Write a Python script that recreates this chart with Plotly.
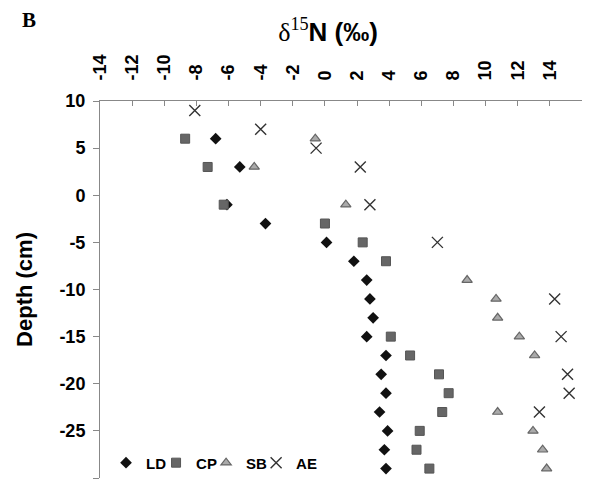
import plotly.graph_objects as go

# ---- data ----
ld_depth = [6, 3, -1, -3, -5, -7, -9, -11, -13, -15, -17, -19, -21, -23, -25, -27, -29]
ld_d15n = [-6.8, -5.3, -6.1, -3.7, 0.1, 1.8, 2.6, 2.8, 3.0, 2.6, 3.8, 3.5, 3.8, 3.4, 3.9, 3.7, 3.8]

cp_depth = [6, 3, -1, -3, -5, -7, -15, -17, -19, -21, -23, -25, -27, -29]
cp_d15n = [-8.7, -7.3, -6.3, 0.0, 2.35, 3.8, 4.1, 5.3, 7.1, 7.7, 7.3, 5.9, 5.7, 6.5]

sb_depth = [6, 3, -1, -9, -11, -13, -15, -17, -23, -25, -27, -29]
sb_d15n = [-0.6, -4.4, 1.3, 8.85, 10.65, 10.75, 12.1, 13.05, 10.75, 12.95, 13.55, 13.8]

ae_depth = [9, 7, 5, 3, -1, -5, -11, -15, -19, -21, -23]
ae_d15n = [-8.1, -4.0, -0.55, 2.2, 2.8, 7.0, 14.3, 14.7, 15.1, 15.2, 13.35]

x_ticks = list(range(-14, 17, 2))
y_ticks = list(range(-30, 11, 5))

FONT = "Liberation Sans"

fig = go.Figure()
fig.add_trace(go.Scatter(x=ld_d15n, y=ld_depth, mode="markers", name="<b>LD</b>",
                         legend="legend",
                         marker=dict(symbol="diamond", size=9, color="#111111")))
fig.add_trace(go.Scatter(x=cp_d15n, y=cp_depth, mode="markers", name="<b>CP</b>",
                         legend="legend2",
                         marker=dict(symbol="square", size=9, color="#666666",
                                     line=dict(color="#555555", width=1))))
fig.add_trace(go.Scatter(x=sb_d15n, y=sb_depth, mode="markers", name="<b>SB</b>",
                         legend="legend3",
                         marker=dict(symbol="triangle-up", size=9, color="#aaaaaa",
                                     line=dict(color="#666666", width=1.2))))
fig.add_trace(go.Scatter(x=ae_d15n, y=ae_depth, mode="markers", name="<b>AE</b>",
                         legend="legend4",
                         marker=dict(symbol="x-thin-open", size=11, color="#333333",
                                     line=dict(color="#333333", width=1.4))))

def leg(xpos):
    return dict(orientation="h", x=xpos, y=0.04, xanchor="left", yanchor="middle",
                font=dict(family=FONT, size=15, color="black"),
                itemwidth=30, bgcolor="rgba(0,0,0,0)")

fig.update_layout(
    width=590, height=487,
    margin=dict(l=100, r=8, t=101, b=9),
    paper_bgcolor="white", plot_bgcolor="white",
    font=dict(family=FONT, color="black"),
    showlegend=True,
    legend=leg(0.0125), legend2=leg(0.1163), legend3=leg(0.2201), legend4=leg(0.3239),
    title=dict(text="<span style='font-family:Liberation Serif'>δ<sup>15</sup></span><b>N (‰)</b>",
               x=0.556, xanchor="center", y=0.935, yanchor="middle",
               font=dict(family=FONT, size=26, color="black")),
    xaxis=dict(side="top", range=[-14, 16], tickvals=x_ticks,
               ticktext=["<b>%d</b>" % v for v in x_ticks], tickangle=-90,
               ticks="inside", ticklen=5, tickcolor="#888888",
               showline=True, linecolor="#888888", linewidth=1,
               showgrid=False, zeroline=False,
               tickfont=dict(family=FONT, size=18, color="black"),
               ticklabelstandoff=16),
    yaxis=dict(range=[-30, 10], tickvals=y_ticks,
               ticktext=["<b>%d</b>" % v for v in y_ticks],
               ticks="outside", ticklen=6, tickcolor="#888888",
               showline=True, linecolor="#888888", linewidth=1,
               showgrid=False, zeroline=False,
               tickfont=dict(family=FONT, size=18, color="black"),
               ticklabelstandoff=4,
               title=dict(text="<b>Depth (cm)</b>", standoff=20,
                          font=dict(family=FONT, size=22, color="black"))),
    annotations=[dict(text="<b>B</b>", xref="paper", yref="paper",
                      x=-0.147, y=1.216, xanchor="center", yanchor="middle",
                      showarrow=False,
                      font=dict(family="Liberation Serif", size=21, color="black"))],
)

fig.write_html("out.html")
